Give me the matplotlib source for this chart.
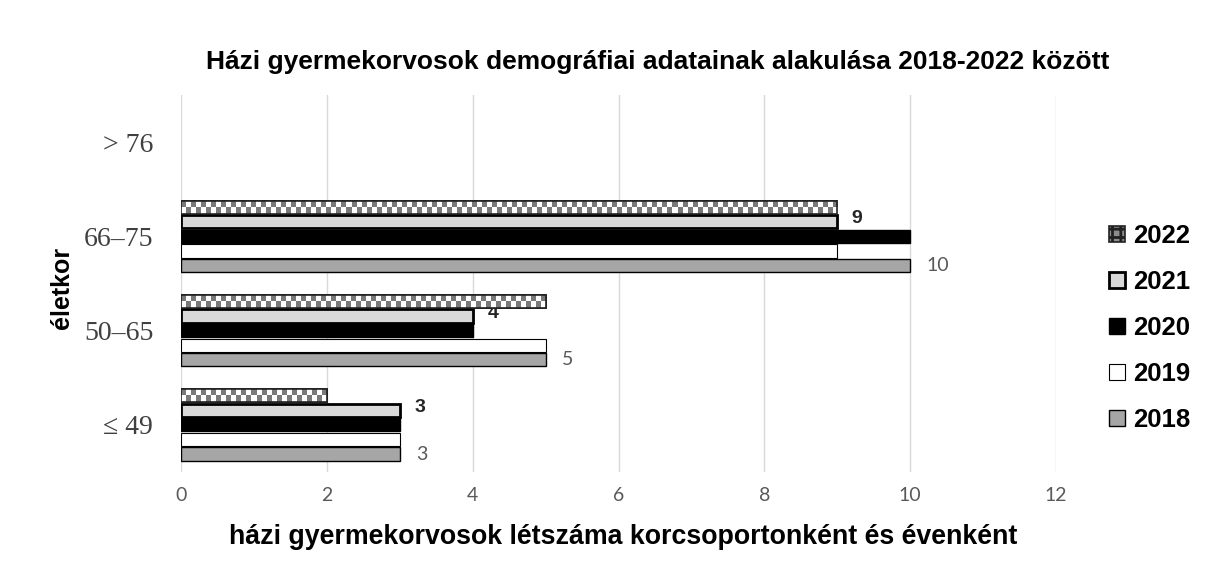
import matplotlib
matplotlib.use("Agg")
import matplotlib.pyplot as plt
import numpy as np

# adatok
age_groups = ["\u2264 49", "50\u201365", "66\u201375", "> 76"]
years = ["2018", "2019", "2020", "2021", "2022"]
v2018 = [3, 5, 10, 0]
v2019 = [3, 5, 9, 0]
v2020 = [3, 4, 10, 0]
v2021 = [3, 4, 9, 0]
v2022 = [2, 5, 9, 0]

series = [v2018, v2019, v2020, v2021, v2022]
faces = ["#a6a6a6", "#ffffff", "#000000", "#d9d9d9", "#ffffff"]
lws = [1.0, 0.8, 1.0, 2.0, 1.2]

fig = plt.figure(figsize=(12.13, 5.79), dpi=100)
ax = fig.add_axes([181 / 1213, 1 - 472 / 579, (1056 - 181) / 1213, (472 - 95) / 579])

y = np.arange(len(age_groups))
step = 0.155
h = 0.14
containers = []
for i, vals in enumerate(series):
    bc = ax.barh(y + (i - 2) * step, vals, height=h, color=faces[i], edgecolor="black",
                 linewidth=lws[i], label=years[i], zorder=3)
    containers.append(bc)
    for p in bc.patches:
        if p.get_width() == 0:
            p.set_linewidth(0)

# sakktábla minta a 2022-es oszlopokra
px_per_unit = (1056 - 181) / 12
for p in containers[4].patches:
    w = p.get_width()
    if w == 0:
        continue
    ncol = max(2, int(round(w * px_per_unit / 5.0)))
    checker = (np.indices((2, ncol)).sum(axis=0) % 2).astype(float)
    im = ax.imshow(checker, cmap="gray", vmin=-0.9, vmax=1.0, aspect="auto",
                   extent=(p.get_x(), p.get_x() + w, p.get_y(), p.get_y() + p.get_height()),
                   interpolation="nearest", zorder=3.5)
    im.set_clip_path(p)
    edge = plt.Rectangle((p.get_x(), p.get_y()), w, p.get_height(), fill=False,
                         edgecolor="#222222", linewidth=1.2, zorder=4)
    ax.add_patch(edge)
leg_2022 = plt.Rectangle((0, 0), 1, 1, facecolor="#8c8c8c", edgecolor="#222222",
                         linewidth=1.2, hatch="++")

# adatcímkék (2021 félkövér, 2018 szürke)
for j, v in enumerate(v2021):
    if v > 0:
        ax.text(v + 0.2, y[j] + 1 * step + 0.03, str(v), va="center", ha="left",
                fontsize=14, fontweight="bold", color="#262626", family="Liberation Sans")
for j, v in enumerate(v2018):
    if v > 0:
        ax.text(v + 0.22, y[j] - 2 * step, str(v), va="center", ha="left",
                fontsize=14, color="#595959", family="Lato")

ax.set_xlim(0, 12)
ax.set_ylim(-0.5, 3.5)
ax.set_xticks(range(0, 13, 2))
ax.set_yticks(y)
ax.set_yticklabels(age_groups, family="Liberation Serif", fontsize=20, color="#404040")
for lab in ax.get_xticklabels():
    lab.set_family("Lato")
    lab.set_fontsize(14)
    lab.set_color("#595959")
ax.tick_params(axis="both", length=0)
ax.tick_params(axis="x", pad=11)
ax.tick_params(axis="y", pad=20)
ax.grid(axis="x", color="#d9d9d9", linewidth=1, zorder=0)
for s in ax.spines.values():
    s.set_visible(False)

handles, labels = ax.get_legend_handles_labels()
handles[4] = leg_2022
plt.rcParams["hatch.linewidth"] = 2.0
plt.rcParams["hatch.color"] = "#ffffff"
fig.legend(handles[::-1], labels[::-1], loc="center left",
           bbox_to_anchor=(1086 / 1213, 1 - 328 / 579), frameon=False,
           prop={"family": "Liberation Sans", "weight": "bold", "size": 18.5},
           handlelength=0.6, handleheight=0.6, handletextpad=0.35,
           labelspacing=0.86)

fig.text(658 / 1213, 1 - 62 / 579,
         "Házi gyermekorvosok demográfiai adatainak alakulása 2018-2022 között",
         ha="center", va="center", fontsize=19, fontweight="bold",
         family="Liberation Sans", color="#000000")
fig.text(623 / 1213, 1 - 537 / 579,
         "házi gyermekorvosok létszáma korcsoportonként és évenként",
         ha="center", va="center", fontsize=19.3, fontweight="bold",
         family="Liberation Sans", color="#000000")
fig.text(62 / 1213, 1 - 288 / 579, "életkor", ha="center", va="center",
         rotation=90, fontsize=18, fontweight="bold", family="Liberation Sans")

fig.savefig("out.png", dpi=100, facecolor="white")
